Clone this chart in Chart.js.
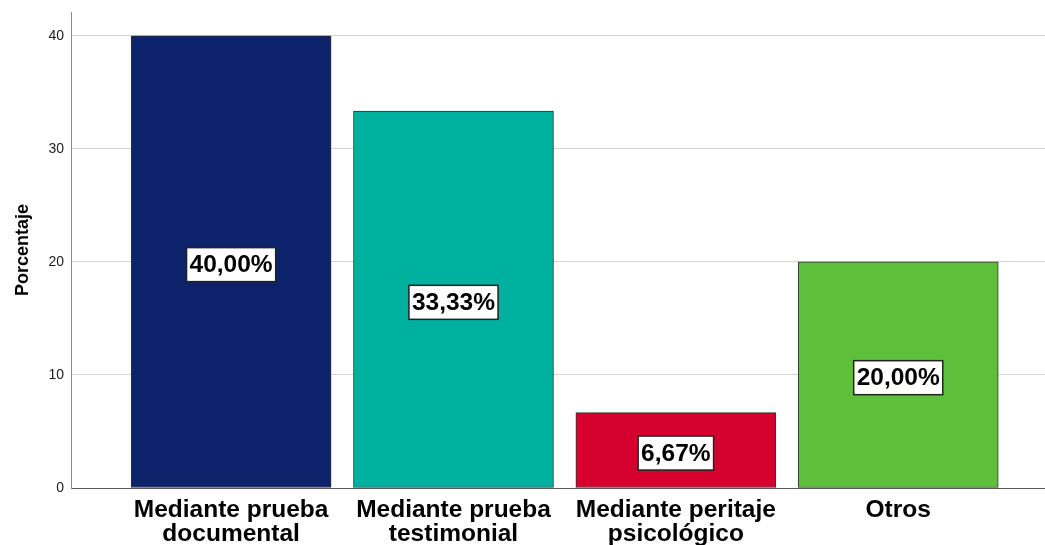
<!doctype html>
<html>
<head>
    <meta charset="utf-8">
    <title>Porcentaje por medio de prueba</title>
    <script src="https://cdn.jsdelivr.net/npm/chart.js"></script>
    <style>
        body { margin: 0; background: #fff; }
    </style>
</head>
<body>
    <canvas id="myChart" width="1045" height="545"></canvas>

    <script>
        // chart values
        var categories = [
            ['Mediante prueba', 'documental'],
            ['Mediante prueba', 'testimonial'],
            ['Mediante peritaje', 'psicológico'],
            ['Otros']
        ];
        var percentages = [40.00, 33.33, 6.67, 20.00];
        var valueLabels = ['40,00%', '33,33%', '6,67%', '20,00%'];
        var barColors = ['#0c236b', '#00b19f', '#d6002e', '#5ebf3a'];
        var yTicks = [0, 10, 20, 30, 40];

        // draws the boxed percentage in the middle of each bar
        var barLabels = {
            id: 'barLabels',
            afterDatasetsDraw: function(chart) {
                var ctx = chart.ctx;
                var meta = chart.getDatasetMeta(0);
                ctx.save();
                ctx.font = 'bold 24.5px "Liberation Sans", Arial, sans-serif';
                ctx.textAlign = 'center';
                ctx.textBaseline = 'middle';
                meta.data.forEach(function(bar, i) {
                    var text = valueLabels[i];
                    var w = ctx.measureText(text).width + 6;
                    var h = 34;
                    var cx = bar.x;
                    var cy = (bar.y + bar.base) / 2 + 3;
                    ctx.fillStyle = '#ffffff';
                    ctx.fillRect(cx - w / 2, cy - h / 2, w, h);
                    ctx.lineWidth = 1.5;
                    ctx.strokeStyle = '#222';
                    ctx.strokeRect(cx - w / 2, cy - h / 2, w, h);
                    ctx.fillStyle = '#000';
                    ctx.fillText(text, cx, cy + 1);
                });
                ctx.restore();
            }
        };

        var ctx = document.getElementById('myChart').getContext('2d');
        var chart = new Chart(ctx, {
            type: 'bar',
            data: {
                datasets: [{
                    data: percentages.map(function(v, i) { return {x: i, y: v}; }),
                    backgroundColor: barColors,
                    borderColor: '#333',
                    borderWidth: 1,
                    borderSkipped: false,
                    barThickness: 200
                }]
            },
            options: {
                responsive: false,
                animation: false,
                layout: { padding: { top: 12, right: 0, left: 0, bottom: 0 } },
                plugins: {
                    legend: { display: false },
                    tooltip: { enabled: false }
                },
                scales: {
                    x: {
                        type: 'linear',
                        offset: false,
                        min: -0.72,
                        max: 3.66,
                        afterBuildTicks: function(scale) {
                            scale.ticks = categories.map(function(c, i) { return {value: i}; });
                        },
                        afterFit: function(scale) {
                            scale.height = 57;
                            scale.paddingLeft = 0;
                            scale.paddingRight = 0;
                        },
                        grid: { display: true, offset: false, color: 'transparent', drawTicks: false },
                        border: { display: true, color: '#5a5a5a', width: 1 },
                        ticks: {
                            padding: 10,
                            maxRotation: 0,
                            autoSkip: false,
                            color: '#000',
                            font: { family: '"Liberation Sans", Arial, sans-serif', size: 24.5, weight: 'bold', lineHeight: 0.98 },
                            callback: function(value) { return categories[value]; }
                        }
                    },
                    y: {
                        min: 0,
                        max: 42.1,
                        afterBuildTicks: function(scale) {
                            scale.ticks = yTicks.map(function(v) { return {value: v}; });
                        },
                        afterFit: function(scale) {
                            scale.width = 71;
                            scale.paddingTop = 0;
                            scale.paddingBottom = 0;
                        },
                        grid: { color: '#d4d4d4', lineWidth: 1, drawTicks: false },
                        border: { display: true, color: '#8c8c8c', width: 1 },
                        ticks: {
                            padding: 7,
                            color: '#222',
                            font: { family: '"Liberation Sans", Arial, sans-serif', size: 14 }
                        },
                        title: {
                            display: true,
                            text: 'Porcentaje',
                            color: '#000',
                            padding: { top: 12, bottom: 0 },
                            font: { family: '"Liberation Sans", Arial, sans-serif', size: 18, weight: 'bold', lineHeight: 1.2 }
                        }
                    }
                }
            },
            plugins: [barLabels]
        });
    </script>
</body>
</html>
